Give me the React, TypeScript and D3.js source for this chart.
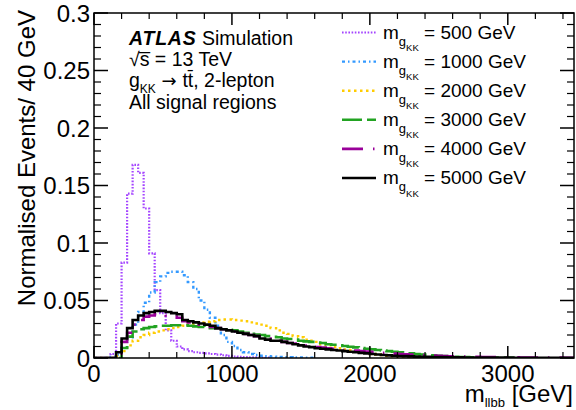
import React from "react";
import * as d3 from "d3";

const BIN = 40;
const X_MAX = 3480;
const Y_MAX = 0.3;

const massLabels = ["500", "1000", "2000", "3000", "4000", "5000"];

const h500 = [0, 0, 0, 0.0035, 0.03, 0.083, 0.143, 0.168, 0.161, 0.13, 0.091, 0.059, 0.039, 0.024, 0.015, 0.01, 0.0075, 0.006, 0.005, 0.0045, 0.004, 0.0035, 0.003, 0.0024, 0.0018, 0.0013, 0.001, 0.0008, 0.0006, 0.0005, 0.0004, 0.0003];

const h1000 = [0, 0, 0, 0.001, 0.003, 0.009, 0.018, 0.029, 0.04, 0.048, 0.057, 0.066, 0.071, 0.074, 0.075, 0.075, 0.072, 0.066, 0.06, 0.05, 0.042, 0.035, 0.028, 0.02, 0.014, 0.0105, 0.007, 0.005, 0.0035, 0.0026, 0.002, 0.0015, 0.0012, 0.001, 0.0008, 0.0006, 0.0005, 0.0004, 0.0003, 0.0003];

const h2000 = [0, 0, 0, 0, 0.002, 0.006, 0.011, 0.015, 0.018, 0.02, 0.022, 0.023, 0.024, 0.025, 0.026, 0.027, 0.028, 0.029, 0.03, 0.031, 0.0315, 0.032, 0.033, 0.0335, 0.0335, 0.033, 0.0325, 0.032, 0.031, 0.03, 0.029, 0.028, 0.026, 0.024, 0.022, 0.021, 0.019, 0.018, 0.016, 0.015, 0.014, 0.012, 0.011, 0.0095, 0.0085, 0.0075, 0.007, 0.006, 0.005, 0.0045, 0.0035, 0.003, 0.0025, 0.002, 0.0015, 0.0012, 0.001, 0.0008, 0.0006, 0.0005, 0.0004, 0.0003];

const h3000 = [0, 0, 0, 0, 0, 0.0087, 0.0186, 0.023, 0.025, 0.026, 0.027, 0.0275, 0.028, 0.028, 0.0285, 0.0285, 0.0285, 0.028, 0.0275, 0.027, 0.0265, 0.026, 0.0258, 0.025, 0.0245, 0.024, 0.023, 0.022, 0.021, 0.0205, 0.02, 0.019, 0.0185, 0.018, 0.017, 0.0165, 0.016, 0.015, 0.0145, 0.014, 0.0135, 0.013, 0.012, 0.0115, 0.011, 0.0105, 0.0098, 0.0092, 0.0087, 0.008, 0.0075, 0.007, 0.0065, 0.006, 0.0055, 0.005, 0.0045, 0.004, 0.0035, 0.003, 0.0027, 0.0023, 0.002, 0.0016, 0.0012, 0.001, 0.0009, 0.0008, 0.0007, 0.0006, 0.0005, 0.0004, 0.0004, 0.0003, 0.0003, 0.0002];

const h4000 = [0, 0, 0, 0, 0.004, 0.014, 0.022, 0.029, 0.033, 0.036, 0.037, 0.038, 0.038, 0.037, 0.036, 0.035, 0.032, 0.031, 0.03, 0.029, 0.028, 0.027, 0.026, 0.025, 0.024, 0.023, 0.022, 0.021, 0.02, 0.019, 0.018, 0.017, 0.016, 0.015, 0.014, 0.013, 0.0125, 0.012, 0.011, 0.0105, 0.0095, 0.009, 0.0085, 0.008, 0.0075, 0.007, 0.0068, 0.0065, 0.006, 0.0057, 0.0053, 0.005, 0.0046, 0.0042, 0.0038, 0.0035, 0.0032, 0.003, 0.0027, 0.0025, 0.0023, 0.0021, 0.0019, 0.0017, 0.0015, 0.0014, 0.0013, 0.0012, 0.0011, 0.001, 0.0009, 0.0008, 0.0008, 0.0007, 0.0007, 0.0006, 0.0006, 0.0005, 0.0005, 0.0004, 0.0004, 0.0004, 0.0003, 0.0003, 0.0003, 0.0002, 0.0002];

const h5000 = [0, 0, 0, 0, 0.005, 0.017, 0.026, 0.033, 0.037, 0.039, 0.04, 0.041, 0.041, 0.04, 0.039, 0.038, 0.033, 0.032, 0.031, 0.03, 0.029, 0.028, 0.026, 0.025, 0.024, 0.023, 0.022, 0.021, 0.02, 0.019, 0.017, 0.016, 0.015, 0.015, 0.014, 0.013, 0.012, 0.011, 0.01, 0.0095, 0.0085, 0.008, 0.0075, 0.007, 0.0065, 0.006, 0.0055, 0.005, 0.0045, 0.004, 0.0035, 0.003, 0.0026, 0.0023, 0.002, 0.0018, 0.0016, 0.0014, 0.0012, 0.001, 0.001, 0.0009, 0.0008, 0.0008, 0.0007, 0.0006, 0.0006, 0.0005, 0.0005, 0.0004, 0.0004, 0.0004, 0.0003, 0.0003, 0.0003, 0.0003, 0.0002, 0.0002, 0.0002, 0.0002, 0.0002, 0.0002, 0.0001, 0.0001, 0.0001, 0.0001, 0.0001];

const seriesValues = [h500, h1000, h2000, h3000, h4000, h5000];
const seriesColors = ["#a444ff", "#3399ff", "#ffcc00", "#22a322", "#990099", "#000000"];
const seriesDash = ["1.6 1.6", "3 3 1.5 3", "2.5 3.5", "20 5", "21 10 1.5 10", "none"];
const seriesWidth = [2.2, 2.4, 2.4, 2.6, 2.6, 2.6];

const xMajorTicks = [0, 1000, 2000, 3000];
const xTickLabels = ["0", "1000", "2000", "3000"];
const yMajorTicks = [0, 0.05, 0.1, 0.15, 0.2, 0.25, 0.3];
const yTickLabels = ["0", "0.05", "0.1", "0.15", "0.2", "0.25", "0.3"];

const W = 576;
const H = 410;
const L = 94;
const R = 574;
const T = 13;
const B = 358;
const FONT = "'Liberation Sans', Arial, Helvetica, sans-serif";

export default function App() {
  const x = d3.scaleLinear().domain([0, X_MAX]).range([L, R]);
  const y = d3.scaleLinear().domain([0, Y_MAX]).range([B, T]);

  const stepPath = (vals: number[]) => {
    const pts: [number, number][] = [[x(0), y(0)]];
    vals.forEach((v, i) => {
      pts.push([x(i * BIN), y(v)]);
      pts.push([x((i + 1) * BIN), y(v)]);
    });
    pts.push([x(vals.length * BIN), y(0)]);
    return d3.line()(pts) || "";
  };

  const xMinor = d3.range(0, X_MAX + 1, 200).filter((v) => v % 1000 !== 0);
  const yMinor = d3.range(0, 31).map((i) => i / 100).filter((_, i) => i % 5 !== 0);

  const legendX0 = 342;
  const legendX1 = 376;
  const legendY = d3.scaleLinear().domain([0, 5]).range([32.5, 178]);

  return (
    <svg width={W} height={H} style={{ position: "absolute", left: 0, top: 0, background: "#fff" }} fontFamily={FONT}>
      <defs>
        <clipPath id="frame">
          <rect x={L} y={T} width={R - L} height={B - T} />
        </clipPath>
      </defs>
      <rect x={0} y={0} width={W} height={H} fill="#fff" />

      <g clipPath="url(#frame)">
        {seriesValues.map((vals, i) => (
          <path
            key={i}
            d={stepPath(vals)}
            fill="none"
            stroke={seriesColors[i]}
            strokeWidth={seriesWidth[i]}
            strokeDasharray={seriesDash[i]}
            strokeLinejoin="miter"
          />
        ))}
      </g>

      {/* frame */}
      <rect x={L} y={T} width={R - L} height={B - T} fill="none" stroke="#000" strokeWidth={1.5} />

      {/* x ticks */}
      {xMajorTicks.map((v) => (
        <g key={"xm" + v}>
          <line x1={x(v)} x2={x(v)} y1={B} y2={B - 12} stroke="#000" strokeWidth={1.5} />
          <line x1={x(v)} x2={x(v)} y1={T} y2={T + 12} stroke="#000" strokeWidth={1.5} />
        </g>
      ))}
      {xMinor.map((v) => (
        <g key={"xn" + v}>
          <line x1={x(v)} x2={x(v)} y1={B} y2={B - 6} stroke="#000" strokeWidth={1.2} />
          <line x1={x(v)} x2={x(v)} y1={T} y2={T + 6} stroke="#000" strokeWidth={1.2} />
        </g>
      ))}
      {/* y ticks */}
      {yMajorTicks.map((v) => (
        <g key={"ym" + v}>
          <line x1={L} x2={L + 14} y1={y(v)} y2={y(v)} stroke="#000" strokeWidth={1.5} />
          <line x1={R} x2={R - 14} y1={y(v)} y2={y(v)} stroke="#000" strokeWidth={1.5} />
        </g>
      ))}
      {yMinor.map((v) => (
        <g key={"yn" + v}>
          <line x1={L} x2={L + 7} y1={y(v)} y2={y(v)} stroke="#000" strokeWidth={1.2} />
          <line x1={R} x2={R - 7} y1={y(v)} y2={y(v)} stroke="#000" strokeWidth={1.2} />
        </g>
      ))}

      {/* tick labels */}
      {xMajorTicks.map((v, i) => (
        <text key={"xl" + v} x={x(v)} y={381.5} textAnchor="middle" fontSize={24} fill="#000">
          {xTickLabels[i]}
        </text>
      ))}
      {yMajorTicks.map((v, i) => (
        <text key={"yl" + v} x={90} y={y(v) + 8.5} textAnchor="end" fontSize={24} fill="#000">
          {yTickLabels[i]}
        </text>
      ))}

      {/* axis titles */}
      <text x={573} y={402} textAnchor="end" fontSize={24} fill="#000">
        m<tspan fontSize={13} dy={5}>llbb</tspan>
        <tspan dy={-5}> [GeV]</tspan>
      </text>
      <text transform="translate(35,10) rotate(-90)" textAnchor="end" fontSize={24} fill="#000">
        Normalised Events/ 40 GeV
      </text>

      {/* ATLAS label */}
      <text x={129} y={44.5} fontSize={19.5} fill="#000">
        <tspan fontWeight="bold" fontStyle="italic" letterSpacing={0.8}>ATLAS</tspan>
        <tspan> Simulation</tspan>
      </text>
      <text x={129} y={65.5} fontSize={19.5} fill="#000">
        {"\u221As\u0305 = 13 TeV"}
      </text>
      <text x={129} y={86.5} fontSize={19.5} fill="#000">
        g<tspan fontSize={12} dy={6.5}>KK</tspan>
        <tspan dy={-6.5} fontFamily="'DejaVu Sans', sans-serif" fontSize={18}>{" \u2192 "}</tspan>
        <tspan>{"tt\u0304, 2-lepton"}</tspan>
      </text>
      <text x={129} y={108.5} fontSize={19.5} fill="#000">
        All signal regions
      </text>

      {/* legend */}
      {massLabels.map((m, i) => (
        <g key={"lg" + m}>
          <line
            x1={legendX0}
            x2={legendX1}
            y1={legendY(i)}
            y2={legendY(i)}
            stroke={seriesColors[i]}
            strokeWidth={seriesWidth[i]}
            strokeDasharray={seriesDash[i]}
          />
          <text x={383} y={legendY(i) + 6} fontSize={19} fill="#000">
            m<tspan fontSize={13} dy={7}>g</tspan>
            <tspan fontSize={9.5} dy={5.5}>KK</tspan>
            <tspan dy={-12.5}>{"  = " + m + " GeV"}</tspan>
          </text>
        </g>
      ))}
    </svg>
  );
}
